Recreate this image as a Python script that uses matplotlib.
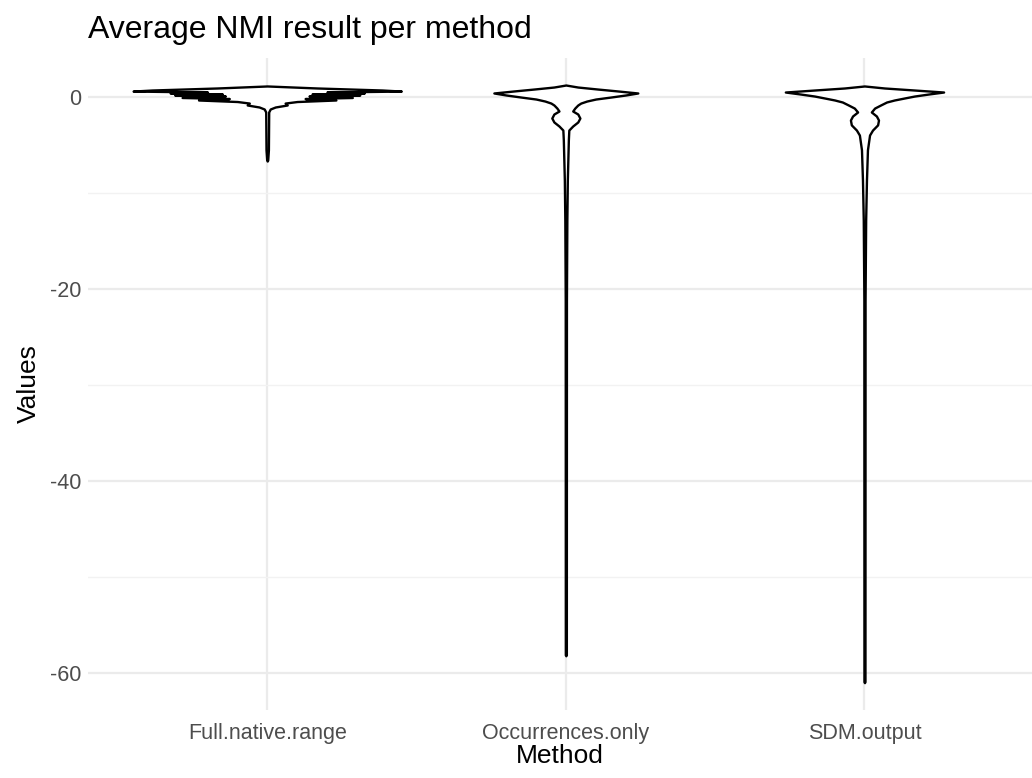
import matplotlib
matplotlib.use("Agg")
import matplotlib.pyplot as plt
from matplotlib.ticker import MultipleLocator

methods = ["Full.native.range", "Occurrences.only", "SDM.output"]

# violin outlines: value (y) and half-width (in category units)
full_y = [1.15, 0.94, 0.73, 0.62, 0.52, 0.42, 0.31, 0.21, 0.10, -0.05, -0.16,
          -0.31, -0.47, -0.63, -0.83, -1.04, -1.25, -1.56, -5.5, -6.56, -6.67]
full_w = [0.0, 0.168, 0.385, 0.449, 0.20, 0.325, 0.15, 0.31, 0.14, 0.285, 0.127,
          0.23, 0.10, 0.06, 0.067, 0.027, 0.01, 0.005, 0.004, 0.0017, 0.0]

occ_y = [1.25, 1.04, 0.83, 0.63, 0.42, 0.21, 0.0, -0.21, -0.42, -0.63, -0.83,
         -1.15, -1.46, -1.77, -2.19, -2.6, -3.02, -3.44, -4.48, -6.56, -8.65,
         -12.8, -21.1, -58.1, -58.2]
occ_w = [0.0, 0.04, 0.107, 0.174, 0.241, 0.20, 0.151, 0.10, 0.07, 0.05, 0.04,
         0.03, 0.023, 0.04, 0.047, 0.04, 0.023, 0.01, 0.0084, 0.0067, 0.005,
         0.0034, 0.002, 0.0017, 0.0]

sdm_y = [1.15, 0.94, 0.73, 0.52, 0.31, 0.10, -0.10, -0.31, -0.52, -0.83, -1.15,
         -1.56, -1.98, -2.4, -2.9, -3.44, -3.96, -5.5, -8.65, -12.8, -21.1,
         -60.9, -61.0]
sdm_w = [0.0, 0.067, 0.167, 0.265, 0.214, 0.167, 0.134, 0.10, 0.074, 0.054, 0.034,
         0.023, 0.04, 0.047, 0.044, 0.027, 0.017, 0.01, 0.0067, 0.004, 0.002,
         0.0017, 0.0]

profiles = [(full_y, full_w), (occ_y, occ_w), (sdm_y, sdm_w)]

plt.rcParams["font.family"] = ["Liberation Sans", "DejaVu Sans"]
plt.rcParams["axes.unicode_minus"] = False

fig = plt.figure(figsize=(10.32, 7.78), dpi=100)
ax = fig.add_axes([0.0853, 0.0874, 0.9147, 0.838])

for i, (ys, ws) in enumerate(profiles):
    c = i + 1
    left = [c - w for w in ws]
    right = [c + w for w in ws]
    ax.fill_betweenx(ys, left, right, facecolor="white", edgecolor="black",
                     linewidth=1.7, zorder=3)

ax.set_xlim(0.4, 3.561)
ax.set_ylim(-63.85, 4.06)
ax.set_xticks([1, 2, 3])
ax.set_xticklabels(methods)
ax.yaxis.set_major_locator(MultipleLocator(20))
ax.yaxis.set_minor_locator(MultipleLocator(10))

ax.grid(which="major", color="#EBEBEB", linewidth=1.6, zorder=0)
ax.grid(which="minor", axis="y", color="#F2F2F2", linewidth=1.0, zorder=0)
ax.tick_params(which="both", length=0, labelsize=15.5, labelcolor="#4D4D4D", pad=5)
ax.tick_params(axis="x", pad=9)
for s in ax.spines.values():
    s.set_visible(False)
ax.set_axisbelow(True)

ax.set_xlabel("Method", fontsize=19, labelpad=0)
ax.set_ylabel("Values", fontsize=19, labelpad=6)
fig.text(0.0853, 0.962, "Average NMI result per method", fontsize=23,
         va="center", ha="left")

fig.savefig("out.png", dpi=100)
